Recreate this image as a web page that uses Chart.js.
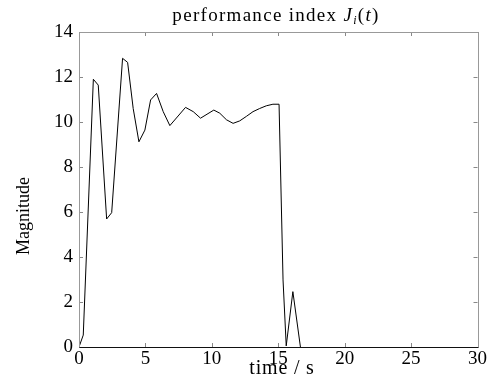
<!DOCTYPE html>
<html>
<head>
<meta charset="utf-8">
<script src="https://cdn.jsdelivr.net/npm/chart.js@4/dist/chart.umd.min.js"></script>
<style>
  html, body { margin: 0; padding: 0; background: #fff; }
  #wrap { width: 488px; height: 385px; }
</style>
</head>
<body>
<div id="wrap"><canvas id="perfChart" width="488" height="385"></canvas></div>
<script>
// time (s) and performance index values
let timeData = [0, 0.32, 1.08, 1.45, 2.08, 2.46, 3.28, 3.66, 4.08, 4.51, 4.96, 5.39, 5.84, 6.34, 6.84, 8.02, 8.6, 9.15, 10.15, 10.6, 11.1, 11.6, 12.1, 12.6, 13.1, 13.6, 14.1, 14.6, 15.06, 15.36, 15.6, 16.1, 16.67];
let magnitudeData = [0, 0.53, 11.9, 11.64, 5.69, 5.97, 12.83, 12.65, 10.6, 9.12, 9.64, 10.98, 11.27, 10.46, 9.84, 10.65, 10.46, 10.17, 10.53, 10.39, 10.1, 9.94, 10.05, 10.25, 10.46, 10.6, 10.72, 10.79, 10.79, 2.98, 0.05, 2.46, 0];

let xTicks = [0, 5, 10, 15, 20, 25, 30];
let yTicks = [0, 2, 4, 6, 8, 10, 12, 14];

let serif = '"Liberation Serif", "DejaVu Serif", serif';

// frame, inward ticks and the text labels
let framePlugin = {
    id: 'frame',
    afterDraw(chart){
        let ctx = chart.ctx;
        let a = chart.chartArea;
        let xs = chart.scales.x;
        let ys = chart.scales.y;
        ctx.save();
        ctx.lineWidth = 1;

        // ticks
        ctx.strokeStyle = '#888';
        ctx.beginPath();
        for(let v of xTicks){
            let px = Math.round(xs.getPixelForValue(v)) + 0.5;
            ctx.moveTo(px, a.bottom); ctx.lineTo(px, a.bottom - 4);
            ctx.moveTo(px, a.top); ctx.lineTo(px, a.top + 4);
        }
        for(let v of yTicks){
            let py = Math.round(ys.getPixelForValue(v)) + 0.5;
            ctx.moveTo(a.left, py); ctx.lineTo(a.left + 4, py);
            ctx.moveTo(a.right, py); ctx.lineTo(a.right - 4, py);
        }
        ctx.stroke();

        // box
        let l = Math.round(a.left) + 0.5, r = Math.round(a.right) + 0.5;
        let t = Math.round(a.top) + 0.5, b = Math.round(a.bottom) + 0.5;
        ctx.strokeStyle = '#999';
        ctx.beginPath();
        ctx.moveTo(l, b); ctx.lineTo(l, t); ctx.lineTo(r, t); ctx.lineTo(r, b);
        ctx.stroke();
        ctx.strokeStyle = '#111';
        ctx.beginPath();
        ctx.moveTo(l, b); ctx.lineTo(r, b);
        ctx.stroke();

        ctx.fillStyle = '#000';
        ctx.textBaseline = 'alphabetic';

        // title: performance index J_i(t)
        ctx.letterSpacing = '1.3px';
        let parts = [
            {s: 'performance index ', f: '19px ' + serif, dy: 0},
            {s: 'J', f: 'italic 19px ' + serif, dy: 0},
            {s: 'i', f: 'italic 12px ' + serif, dy: 3},
            {s: '(', f: '19px ' + serif, dy: 0},
            {s: 't', f: 'italic 19px ' + serif, dy: 0},
            {s: ')', f: '19px ' + serif, dy: 0}
        ];
        let total = 0;
        for(let p of parts){ ctx.font = p.f; p.w = ctx.measureText(p.s).width; total += p.w; }
        let x = 276 - total / 2;
        for(let p of parts){
            ctx.font = p.f;
            ctx.fillText(p.s, x, 21 + p.dy);
            x += p.w;
        }

        // x axis label
        ctx.letterSpacing = '0.8px';
        ctx.font = '20px ' + serif;
        ctx.textAlign = 'center';
        ctx.fillText('time / s', 282, 374);

        // y axis label
        ctx.letterSpacing = '0px';
        ctx.font = '18px ' + serif;
        ctx.save();
        ctx.translate(29, 216);
        ctx.rotate(-Math.PI / 2);
        ctx.fillText('Magnitude', 0, 0);
        ctx.restore();

        ctx.restore();
    }
};

let points = timeData.map((t, i) => ({x: t, y: magnitudeData[i]}));

new Chart(document.getElementById('perfChart'), {
    type: 'line',
    data: {
        datasets: [{
            data: points,
            borderColor: '#000',
            borderWidth: 1,
            pointRadius: 0,
            tension: 0,
            fill: false
        }]
    },
    options: {
        responsive: false,
        animation: false,
        layout: { padding: { top: 32, right: 10, left: 0, bottom: 0 } },
        plugins: {
            legend: { display: false },
            title: { display: false },
            tooltip: { enabled: false }
        },
        scales: {
            x: {
                type: 'linear',
                min: 0, max: 30,
                border: { display: false },
                grid: { display: false, drawTicks: false },
                afterBuildTicks: (s) => { s.ticks = xTicks.map(v => ({value: v})); },
                afterFit: (s) => { s.height = 38; },
                ticks: { color: '#000', padding: 1, font: { family: serif, size: 19 }, maxRotation: 0 }
            },
            y: {
                min: 0, max: 14,
                border: { display: false },
                grid: { display: false, drawTicks: false },
                afterBuildTicks: (s) => { s.ticks = yTicks.map(v => ({value: v})); },
                afterFit: (s) => { s.width = 79; },
                ticks: { color: '#000', padding: 6, font: { family: serif, size: 19 } }
            }
        }
    },
    plugins: [framePlugin]
});
</script>
</body>
</html>
